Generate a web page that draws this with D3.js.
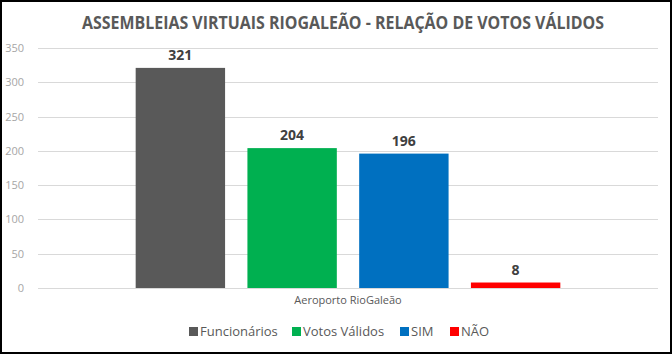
<!DOCTYPE html>
<html>
<head>
<meta charset="utf-8">
<script src="https://cdn.jsdelivr.net/npm/d3@7"></script>
<style>
  html, body { margin: 0; padding: 0; background: #fff; }
  svg { display: block; font-family: "Open Sans", "Noto Sans", sans-serif; }
</style>
</head>
<body>
<svg id="chart" width="672" height="354"></svg>
<script>
const categories = ['Aeroporto RioGaleão'];
const seriesNames = ['Funcionários', 'Votos Válidos', 'SIM', 'NÃO'];
const seriesValues = [321, 204, 196, 8];
const seriesColors = ['#595959', '#00b050', '#0070c0', '#ff0000'];
const yTicks = [0, 50, 100, 150, 200, 250, 300, 350];
const title = 'ASSEMBLEIAS VIRTUAIS RIOGALEÃO - RELAÇÃO DE VOTOS VÁLIDOS';

const svg = d3.select('svg#chart');
const W = +svg.attr('width');
const H = +svg.attr('height');
const plot = { left: 38, right: 658, top: 48, bottom: 288 };

// frame
svg.append('rect')
    .attr('x', 1).attr('y', 1)
    .attr('width', W - 2).attr('height', H - 2)
    .attr('fill', '#fff')
    .attr('stroke', '#000')
    .attr('stroke-width', 2);

svg.append('text')
    .attr('x', 343)
    .attr('y', 29)
    .attr('text-anchor', 'middle')
    .attr('font-size', 17)
    .attr('font-weight', 'bold')
    .attr('fill', '#595959')
    .attr('textLength', 522)
    .attr('lengthAdjust', 'spacingAndGlyphs')
    .text(title);

const y = d3.scaleLinear().domain([0, 350]).range([plot.bottom, plot.top]);
const x0 = d3.scaleBand().domain(categories).range([plot.left, plot.right])
    .paddingInner(0).paddingOuter(0.23);
const x1 = d3.scaleBand().domain(seriesNames).range([0, x0.bandwidth()])
    .paddingInner(0.2).paddingOuter(0);

// gridlines
svg.append('g')
    .selectAll('line')
    .data(yTicks)
    .join('line')
    .attr('x1', plot.left).attr('x2', plot.right)
    .attr('y1', d => Math.round(y(d)) + 0.5)
    .attr('y2', d => Math.round(y(d)) + 0.5)
    .attr('stroke', '#d9d9d9')
    .attr('stroke-width', 1);

// y axis labels
const yAxis = svg.append('g')
    .attr('transform', `translate(${plot.left - 14},0)`)
    .call(d3.axisLeft(y).tickValues(yTicks).tickSize(0).tickPadding(0));
yAxis.select('.domain').remove();
yAxis.selectAll('text')
    .attr('fill', '#a6a6a6')
    .attr('font-size', 11)
    .attr('font-family', '"Open Sans", sans-serif');

const g = svg.append('g');
categories.forEach(cat => {
  seriesNames.forEach((name, i) => {
    const bx = x0(cat) + x1(name);
    g.append('rect')
        .attr('x', bx)
        .attr('y', y(seriesValues[i]))
        .attr('width', x1.bandwidth())
        .attr('height', y(0) - y(seriesValues[i]))
        .attr('fill', seriesColors[i]);
    g.append('text')
        .attr('x', bx + x1.bandwidth() / 2)
        .attr('y', y(seriesValues[i]) - 8)
        .attr('text-anchor', 'middle')
        .attr('font-size', 14)
        .attr('font-weight', 'bold')
        .attr('fill', '#404040')
        .text(seriesValues[i]);
  });
});

// category axis
const xAxis = svg.append('g')
    .attr('transform', `translate(0,${plot.bottom})`)
    .call(d3.axisBottom(x0).tickSize(0).tickPadding(8));
xAxis.select('.domain').remove();
xAxis.selectAll('text')
    .attr('fill', '#595959')
    .attr('font-size', 11)
    .attr('font-family', '"Open Sans", sans-serif');

// legend
const legend = svg.append('g').attr('font-size', 13).attr('fill', '#595959');
const legendX = [189, 292, 400, 450];
seriesNames.forEach((name, i) => {
  const item = legend.append('g').attr('transform', `translate(${legendX[i]},327)`);
  item.append('rect').attr('width', 9).attr('height', 9).attr('fill', seriesColors[i]);
  item.append('text').attr('x', 11).attr('y', 9).text(name);
});
</script>
</body>
</html>
